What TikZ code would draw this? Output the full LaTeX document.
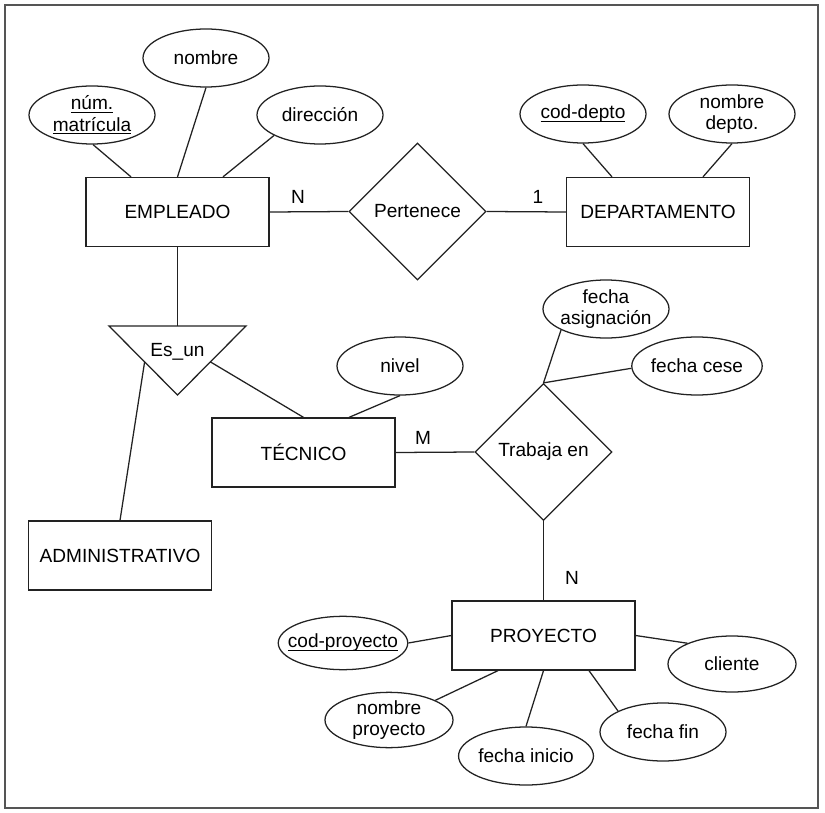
\documentclass[tikz,border=0pt]{standalone}
\usepackage{fontspec}
\setmainfont{Liberation Sans}
\usetikzlibrary{shapes.geometric,calc}
\definecolor{ink}{HTML}{222222}
\definecolor{frm}{HTML}{555555}
\newcommand{\ulx}[1]{\setbox0\hbox{#1}\rlap{\rule[-2.2pt]{\wd0}{0.7pt}}\box0}
\begin{document}
\begin{tikzpicture}[x=0.75pt,y=-0.75pt,
  every node/.style={font=\fontsize{14.3}{16}\selectfont, text=black},
  entity/.style={draw=ink, line width=0.95pt, rectangle, minimum width=137.25pt, minimum height=51.75pt, inner sep=0pt},
  attr/.style={draw=ink, line width=0.95pt, ellipse, minimum width=94.5pt, minimum height=43.5pt, inner sep=0pt, align=center},
  rel/.style={draw=ink, line width=0.95pt, diamond, aspect=1, minimum width=102.75pt, minimum height=102.75pt, inner sep=0pt},
  link/.style={draw=ink, line width=0.95pt},
  card/.style={inner sep=0pt}]
\useasboundingbox (0,0) rectangle (825,813);
\draw[frm, line width=1.1pt] (5,5) rectangle (818,808);

% entities
\node[entity] (emp) at (177.5,212) {EMPLEADO};
\node[entity] (dep) at (658,212) {DEPARTAMENTO};
\node[entity] (tec) at (303.5,452.5) {TÉCNICO};
\node[entity] (adm) at (120,555.5) {ADMINISTRATIVO};
\node[entity] (pro) at (543.5,635.5) {PROYECTO};

% relationships
\node[rel] (pert) at (417.5,211.5) {Pertenece};
\node[rel] (trab) at (543.5,452) {Trabaja en};

% attributes
\node[attr] (mat) at (92,115) {\ulx{núm.}\\\ulx{matrícula}};
\node[attr] (nom) at (206,58) {nombre};
\node[attr] (dir) at (320,115) {dirección};
\node[attr] (cod) at (583,114) {\ulx{cod-depto}};
\node[attr] (ndep) at (732,114) {nombre\\depto.};
\node[attr] (niv) at (400,366) {nivel};
\node[attr, inner xsep=-6pt] (fas) at (606,309) {fecha\\asignación};
\node[attr] (fce) at (697,366) {fecha cese};
\node[attr, inner xsep=-7pt, minimum width=96pt, minimum height=40pt] (cpr) at (343,643) {\ulx{cod-proyecto}};
\node[attr, minimum width=96pt, minimum height=41pt] (npr) at (389,720) {nombre\\proyecto};
\node[attr] (fin) at (526,756) {fecha inicio};
\node[attr] (ffi) at (663,732) {fecha fin};
\node[attr, minimum width=96pt, minimum height=42pt] (cli) at (732,664) {cliente};

% Es_un triangle
\coordinate (tA) at (109,326);
\coordinate (tB) at (246,326);
\coordinate (tC) at (177.5,395);
\coordinate (ttop) at (177.5,326);
\coordinate (tleft) at ($(tA)!0.52!(tC)$);
\coordinate (tright) at ($(tB)!0.52!(tC)$);
\draw[link, line join=miter] (tA) -- (tB) -- (tC) -- cycle;
\node (esun) at (177.5,352) {Es\_un};

% connectors
\draw[link] (mat.-88) -- ($(emp.north)+(-46.5,0)$);
\draw[link] (nom.south) -- (emp.north);
\draw[link] (dir.204) -- ($(emp.north)+(45.5,0)$);
\draw[link] (emp.east) -- (pert.west);
\draw[link] (pert.east) -- (dep.west);
\draw[link] (cod.south) -- ($(dep.north)+(-46,0)$);
\draw[link] (ndep.south) -- ($(dep.north)+(45,0)$);
\draw[link] (emp.south) -- (ttop);
\draw[link] (tleft) -- (adm.north);
\draw[link] (tright) -- (tec.north);
\draw[link] (niv.south) -- ($(tec.north)+(45.5,0)$);
\draw[link] (tec.east) -- (trab.west);
\draw[link] (trab.north) -- (fas.205);
\draw[link] (trab.north) -- (fce.182);
\draw[link] (trab.south) -- (pro.north);
\draw[link] (cpr.east) -- (pro.west);
\draw[link] (npr.23) -- ($(pro.south)+(-45.5,0)$);
\draw[link] (fin.north) -- (pro.south);
\draw[link] (ffi.155) -- ($(pro.south)+(45.5,0)$);
\draw[link] (cli.155) -- (pro.east);

% cardinalities
\node[card] (cN1) at (298,197) {N};
\node[card] (c1) at (538,197) {1};
\node[card] (cM) at (423,438) {M};
\node[card] (cN2) at (572,578) {N};
\end{tikzpicture}
\end{document}
